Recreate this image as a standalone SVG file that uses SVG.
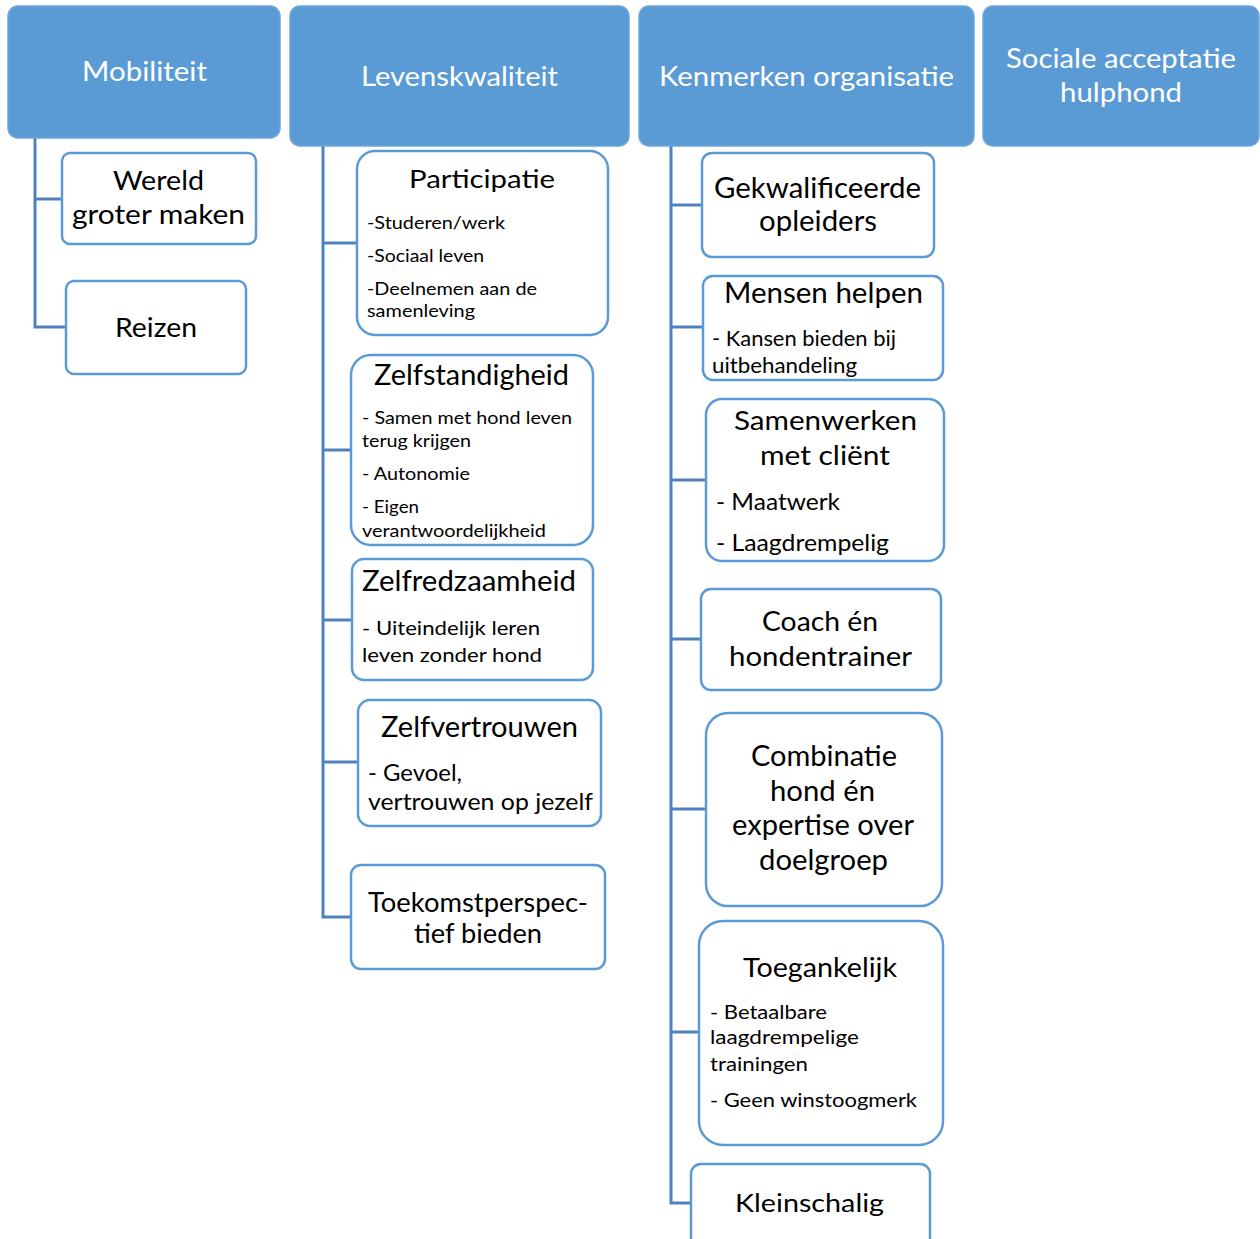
<svg xmlns="http://www.w3.org/2000/svg" width="1260" height="1239" viewBox="0 0 1260 1239">
<style>
.hbox{fill:#5B9BD5;stroke:#6EA6DA;stroke-width:1.5}
.box{fill:#FFFFFF;stroke:#5B9BD5;stroke-width:2.5}
.conn{fill:none;stroke:#4F81BD;stroke-width:3}
text{font-family:Lato,"Open Sans","Liberation Sans",sans-serif}
.ht{fill:#FFFFFF;font-size:27px}
.t{fill:#000000}
</style>
<rect width="1260" height="1239" fill="#FFFFFF"/>
<g id="connectors">
<path class="conn" d="M35 138 V327 H66 M35 199 H62"/>
<path class="conn" d="M323 146 V917 H351 M323 243 H357 M323 450 H351 M323 620 H352 M323 762 H358"/>
<path class="conn" d="M671 146 V1203 H691 M671 205 H702 M671 327 H703 M671 480 H706 M671 639 H701 M671 809 H706 M671 1032 H699"/>
</g>
<g id="mobiliteit">
<rect class="hbox" x="8" y="6" width="272" height="132" rx="10"/>
<text class="ht" x="82" y="81" textLength="125" lengthAdjust="spacingAndGlyphs">Mobiliteit</text>
</g>
<g id="levenskwaliteit">
<rect class="hbox" x="290" y="6" width="339" height="140" rx="10"/>
<text class="ht" x="361" y="86" font-size="28" textLength="197" lengthAdjust="spacingAndGlyphs">Levenskwaliteit</text>
</g>
<g id="kenmerken">
<rect class="hbox" x="639" y="6" width="335" height="140" rx="10"/>
<text class="ht" x="659" y="86" textLength="295" lengthAdjust="spacingAndGlyphs">Kenmerken organisatie</text>
</g>
<g id="sociale">
<rect class="hbox" x="983" y="6" width="276" height="140" rx="10"/>
<text class="ht" x="1006" y="68" textLength="230" lengthAdjust="spacingAndGlyphs">Sociale acceptatie</text>
<text class="ht" x="1060" y="102" textLength="122" lengthAdjust="spacingAndGlyphs">hulphond</text>
</g>
<g id="wereld">
<rect class="box" x="62" y="153" width="194" height="91" rx="8"/>
<text class="t" font-size="27.5" x="113" y="190" textLength="91" lengthAdjust="spacingAndGlyphs">Wereld</text>
<text class="t" font-size="27.5" x="72" y="224" textLength="173" lengthAdjust="spacingAndGlyphs">groter maken</text>
</g>
<g id="reizen">
<rect class="box" x="66" y="281" width="180" height="93" rx="8"/>
<text class="t" font-size="27.5" x="115" y="337" textLength="82" lengthAdjust="spacingAndGlyphs">Reizen</text>
</g>
<g id="participatie">
<rect class="box" x="357" y="151" width="251" height="184" rx="18"/>
<text class="t" font-size="25" x="409" y="188" textLength="146" lengthAdjust="spacingAndGlyphs">Participatie</text>
<text class="t" font-size="18" x="367" y="229" textLength="138" lengthAdjust="spacingAndGlyphs">-Studeren/werk</text>
<text class="t" font-size="18" x="367" y="262" textLength="117" lengthAdjust="spacingAndGlyphs">-Sociaal leven</text>
<text class="t" font-size="18" x="367" y="295" textLength="170" lengthAdjust="spacingAndGlyphs">-Deelnemen aan de</text>
<text class="t" font-size="18" x="367" y="317" textLength="108" lengthAdjust="spacingAndGlyphs">samenleving</text>
</g>
<g id="zelfstandigheid">
<rect class="box" x="351" y="355" width="242" height="190" rx="20"/>
<text class="t" font-size="28" x="374" y="385" textLength="195" lengthAdjust="spacingAndGlyphs">Zelfstandigheid</text>
<text class="t" font-size="17" x="362" y="424" textLength="210" lengthAdjust="spacingAndGlyphs">- Samen met hond leven</text>
<text class="t" font-size="17" x="362" y="447" textLength="109" lengthAdjust="spacingAndGlyphs">terug krijgen</text>
<text class="t" font-size="17" x="362" y="480" textLength="108" lengthAdjust="spacingAndGlyphs">- Autonomie</text>
<text class="t" font-size="17" x="362" y="513" textLength="57" lengthAdjust="spacingAndGlyphs">- Eigen</text>
<text class="t" font-size="17" x="362" y="537" textLength="184" lengthAdjust="spacingAndGlyphs">verantwoordelijkheid</text>
</g>
<g id="zelfredzaamheid">
<rect class="box" x="352" y="559" width="241" height="121" rx="12"/>
<text class="t" font-size="28" x="362" y="591" textLength="214" lengthAdjust="spacingAndGlyphs">Zelfredzaamheid</text>
<text class="t" font-size="19.5" x="362" y="635" textLength="178" lengthAdjust="spacingAndGlyphs">- Uiteindelijk leren</text>
<text class="t" font-size="19.5" x="362" y="662" textLength="180" lengthAdjust="spacingAndGlyphs">leven zonder hond</text>
</g>
<g id="zelfvertrouwen">
<rect class="box" x="358" y="700" width="243" height="126" rx="12"/>
<text class="t" font-size="28" x="381" y="737" textLength="197" lengthAdjust="spacingAndGlyphs">Zelfvertrouwen</text>
<text class="t" font-size="23.5" x="368" y="781" textLength="94" lengthAdjust="spacingAndGlyphs">- Gevoel,</text>
<text class="t" font-size="23.5" x="368" y="810" textLength="225" lengthAdjust="spacingAndGlyphs">vertrouwen op jezelf</text>
</g>
<g id="toekomst">
<rect class="box" x="351" y="865" width="254" height="104" rx="10"/>
<text class="t" font-size="26" x="368" y="912" textLength="220" lengthAdjust="spacingAndGlyphs">Toekomstperspec-</text>
<text class="t" font-size="26" x="414" y="943" textLength="128" lengthAdjust="spacingAndGlyphs">tief bieden</text>
</g>
<g id="gekwalificeerde">
<rect class="box" x="702" y="153" width="232" height="104" rx="10"/>
<text class="t" font-size="29" x="714" y="198" textLength="207" lengthAdjust="spacingAndGlyphs">Gekwalificeerde</text>
<text class="t" font-size="29" x="759" y="231" textLength="118" lengthAdjust="spacingAndGlyphs">opleiders</text>
</g>
<g id="mensen">
<rect class="box" x="703" y="276" width="240" height="104" rx="10"/>
<text class="t" font-size="28" x="724" y="303" textLength="199" lengthAdjust="spacingAndGlyphs">Mensen helpen</text>
<text class="t" font-size="21" x="712" y="346" textLength="184" lengthAdjust="spacingAndGlyphs">- Kansen bieden bij</text>
<text class="t" font-size="21" x="712" y="373" textLength="145" lengthAdjust="spacingAndGlyphs">uitbehandeling</text>
</g>
<g id="samenwerken">
<rect class="box" x="706" y="399" width="238" height="162" rx="16"/>
<text class="t" font-size="26.5" x="734" y="430" textLength="183" lengthAdjust="spacingAndGlyphs">Samenwerken</text>
<text class="t" font-size="26.5" x="760" y="465" textLength="130" lengthAdjust="spacingAndGlyphs">met cliënt</text>
<text class="t" font-size="24" x="716" y="510" textLength="124" lengthAdjust="spacingAndGlyphs">- Maatwerk</text>
<text class="t" font-size="24" x="716" y="551" textLength="173" lengthAdjust="spacingAndGlyphs">- Laagdrempelig</text>
</g>
<g id="coach">
<rect class="box" x="701" y="589" width="240" height="101" rx="10"/>
<text class="t" font-size="27" x="762" y="631" textLength="116" lengthAdjust="spacingAndGlyphs">Coach én</text>
<text class="t" font-size="27" x="729" y="666" textLength="183" lengthAdjust="spacingAndGlyphs">hondentrainer</text>
</g>
<g id="combinatie">
<rect class="box" x="706" y="713" width="236" height="193" rx="22"/>
<text class="t" font-size="28" x="751" y="766" textLength="146" lengthAdjust="spacingAndGlyphs">Combinatie</text>
<text class="t" font-size="28" x="770" y="801" textLength="105" lengthAdjust="spacingAndGlyphs">hond én</text>
<text class="t" font-size="28" x="732" y="835" textLength="182" lengthAdjust="spacingAndGlyphs">expertise over</text>
<text class="t" font-size="28" x="759" y="870" textLength="129" lengthAdjust="spacingAndGlyphs">doelgroep</text>
</g>
<g id="toegankelijk">
<rect class="box" x="699" y="921" width="244" height="224" rx="24"/>
<text class="t" font-size="26.5" x="743" y="977" textLength="154" lengthAdjust="spacingAndGlyphs">Toegankelijk</text>
<text class="t" font-size="19.5" x="710" y="1019" textLength="117" lengthAdjust="spacingAndGlyphs">- Betaalbare</text>
<text class="t" font-size="19.5" x="710" y="1044" textLength="149" lengthAdjust="spacingAndGlyphs">laagdrempelige</text>
<text class="t" font-size="19.5" x="710" y="1071" textLength="98" lengthAdjust="spacingAndGlyphs">trainingen</text>
<text class="t" font-size="19.5" x="710" y="1107" textLength="207" lengthAdjust="spacingAndGlyphs">- Geen winstoogmerk</text>
</g>
<g id="kleinschalig">
<rect class="box" x="691" y="1164" width="239" height="90" rx="10"/>
<text class="t" font-size="25" x="735" y="1212" textLength="149" lengthAdjust="spacingAndGlyphs">Kleinschalig</text>
</g>
</svg>
